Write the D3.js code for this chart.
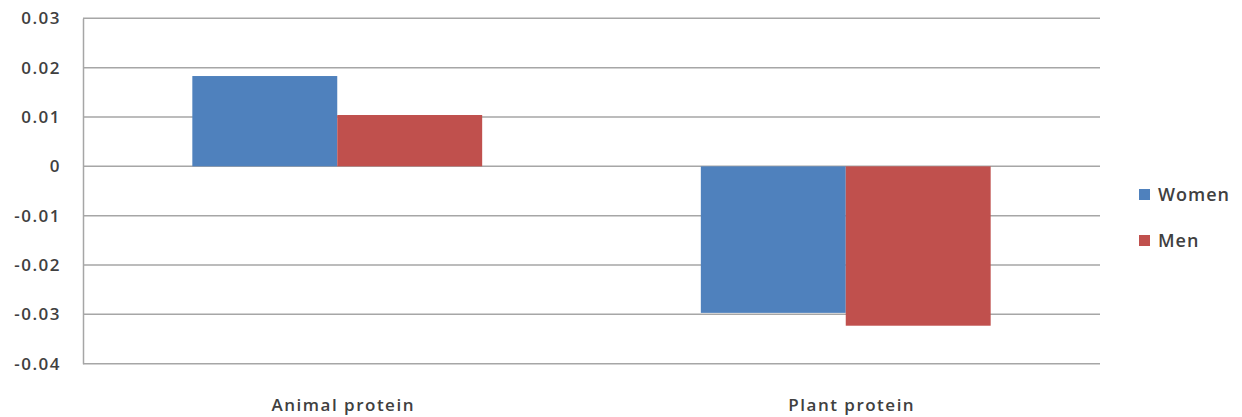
<!DOCTYPE html>
<html>
<head>
<meta charset="utf-8">
<script src="https://cdn.jsdelivr.net/npm/d3@7"></script>
<style>
  body { margin: 0; background: #fff; }
  text { font-family: "Open Sans", sans-serif; fill: #404040; }
</style>
</head>
<body>
<div class="draw"></div>
<script>
var categories = ['Animal protein', 'Plant protein'];
var seriesNames = ['Women', 'Men'];
var women = [0.0183, -0.0297];
var men = [0.0104, -0.0323];
var yTicks = [0.03, 0.02, 0.01, 0, -0.01, -0.02, -0.03, -0.04];

var colors = { Women: '#4f81bd', Men: '#c0504d' };

var width = 1242, height = 417;
var plotLeft = 83, plotRight = 1100, plotTop = 18.3, plotBottom = 363.7;

var svg = d3.select('.draw').append('svg')
    .attr('width', width)
    .attr('height', height);

var x = d3.scaleBand()
    .domain(categories)
    .range([plotLeft, plotRight])
    .paddingInner(0.43)
    .paddingOuter(0.215);

var xs = d3.scaleBand()
    .domain(seriesNames)
    .range([0, x.bandwidth()]);

var y = d3.scaleLinear()
    .domain([-0.04, 0.03])
    .range([plotBottom, plotTop]);

// grid lines
svg.append('g').selectAll('line')
    .data(yTicks)
    .enter().append('line')
    .attr('x1', plotLeft)
    .attr('x2', plotRight)
    .attr('y1', function (d) { return y(d); })
    .attr('y2', function (d) { return y(d); })
    .attr('stroke', '#a6a6a6')
    .attr('stroke-width', 1.5);

// y axis
var yaxis = d3.axisLeft(y)
    .tickValues(yTicks)
    .tickSize(0)
    .tickPadding(22)
    .tickFormat(function (d) { return d === 0 ? '0' : d3.format('.2f')(d).replace('\u2212', '-'); });

var ga = svg.append('g')
    .attr('transform', 'translate(' + plotLeft + ',0)')
    .call(yaxis);
ga.select('.domain').attr('stroke', '#a6a6a6').attr('stroke-width', 1.5);
ga.selectAll('text')
    .style('font-size', '17px')
    .style('font-weight', '600')
    .style('letter-spacing', '1.5px')
    .attr('fill', '#404040');

// bars
var rows = categories.map(function (c, i) {
    return { cat: c, Women: women[i], Men: men[i] };
});

var groups = svg.append('g').selectAll('g')
    .data(rows)
    .enter().append('g')
    .attr('transform', function (d) { return 'translate(' + x(d.cat) + ',0)'; });

groups.selectAll('rect')
    .data(function (d) { return seriesNames.map(function (s) { return { s: s, v: d[s] }; }); })
    .enter().append('rect')
    .attr('x', function (d) { return xs(d.s); })
    .attr('width', xs.bandwidth())
    .attr('y', function (d) { return y(Math.max(0, d.v)); })
    .attr('height', function (d) { return Math.abs(y(d.v) - y(0)); })
    .attr('fill', function (d) { return colors[d.s]; });

// x labels
var xaxis = d3.axisBottom(x).tickSize(0).tickPadding(35);
var gx = svg.append('g')
    .attr('transform', 'translate(0,' + plotBottom + ')')
    .call(xaxis);
gx.select('.domain').remove();
gx.selectAll('text')
    .style('font-size', '17px')
    .style('font-weight', '600')
    .style('letter-spacing', '1.5px')
    .attr('dx', '6')
    .attr('fill', '#404040');

// legend
var legend = svg.append('g').selectAll('g')
    .data(seriesNames)
    .enter().append('g')
    .attr('transform', function (d, i) { return 'translate(1139,' + (189 + i * 46) + ')'; });
legend.append('rect')
    .attr('width', 11)
    .attr('height', 11)
    .attr('fill', function (d) { return colors[d]; });
legend.append('text')
    .attr('x', 19)
    .attr('y', 6)
    .attr('dy', '0.35em')
    .style('font-size', '18px')
    .style('font-weight', '600')
    .style('letter-spacing', '1px')
    .text(function (d) { return d; });
</script>
</body>
</html>
